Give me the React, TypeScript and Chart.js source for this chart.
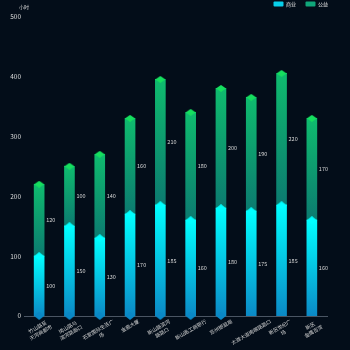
import React, { useEffect, useRef } from 'react';
import { Chart, registerables } from 'chart.js';
Chart.register(...registerables);

const categories: string[][] = [
  ['竹山路至', '天河商都市'],
  ['岗山路与', '滨河路路口'],
  ['石家国际生活广', '场'],
  ['金鼎大厦'],
  ['新山路滨河', '路路口'],
  ['新山路工商银行'],
  ['苏州银监局'],
  ['太湖大道南端路路口'],
  ['新区世纪广', '场'],
  ['新区', '金鹰百货'],
];
const seriesNames = ['商业', '公益'];
const businessValues = [100, 150, 130, 170, 185, 160, 180, 175, 185, 160];
const publicValues = [120, 100, 140, 160, 210, 180, 200, 190, 220, 170];
const baseCaps: (number | null)[] = [0, 0, 0, 0, 0, 0, 0, null, null, null];
const yMax = 500;
const yStep = 100;
const unitLabel = '小时';

const FONT = '"Noto Sans CJK SC", "Noto Sans", sans-serif';
const BG = '#030d19';

function makeDiamond(color: string, w: number, h: number) {
  const c = document.createElement('canvas');
  c.width = w;
  c.height = h;
  const g = c.getContext('2d')!;
  g.fillStyle = color;
  g.beginPath();
  g.moveTo(w / 2, 0);
  g.lineTo(w, h / 2);
  g.lineTo(w / 2, h);
  g.lineTo(0, h / 2);
  g.closePath();
  g.fill();
  return c;
}

export default function App() {
  const ref = useRef<HTMLCanvasElement | null>(null);
  useEffect(() => {
    if (!ref.current) return;
    const totals = businessValues.map((v, i) => v + publicValues[i]);
    const zeros = businessValues.map(() => 0);

    const grad = (start: number[], end: number[], c0: string, c1: string) => (ctx: any) => {
      const chart = ctx.chart;
      const y = chart.scales && chart.scales.y;
      if (!y || ctx.type !== 'data') return c0;
      const i = ctx.dataIndex;
      const top = y.getPixelForValue(end[i]);
      const bottom = y.getPixelForValue(start[i]);
      if (!isFinite(top) || !isFinite(bottom) || top === bottom) return c0;
      const g = chart.ctx.createLinearGradient(0, top, 0, bottom);
      g.addColorStop(0, c0);
      g.addColorStop(1, c1);
      return g;
    };

    const greenCap = makeDiamond('#16df5f', 10, 7);
    const cyanCap = makeDiamond('#00ffff', 10, 8);
    const baseCap = makeDiamond('#0a88c6', 10, 8);

    const valueLabels = {
      id: 'valueLabels',
      afterDatasetsDraw(chart: any) {
        const ctx = chart.ctx;
        ctx.save();
        ctx.font = `5.5px ${FONT}`;
        ctx.fillStyle = '#d6d6d6';
        ctx.textAlign = 'left';
        ctx.textBaseline = 'middle';
        [businessValues, publicValues].forEach((vals, di) => {
          const meta = chart.getDatasetMeta(di);
          meta.data.forEach((el: any, i: number) => {
            const p = el.getProps(['x', 'y', 'base', 'width'], true);
            ctx.fillText(String(vals[i]), p.x + p.width / 2 + 2, (p.y + p.base) / 2);
          });
        });
        ctx.restore();
      },
    };

    const xLabels = {
      id: 'xLabels',
      afterDraw(chart: any) {
        const ctx = chart.ctx;
        const xs = chart.scales.x;
        const axisY = chart.chartArea.bottom;
        const lh = 6.5;
        ctx.save();
        ctx.font = `5px ${FONT}`;
        ctx.fillStyle = '#d6d6d6';
        ctx.textAlign = 'center';
        ctx.textBaseline = 'middle';
        categories.forEach((lines, i) => {
          const x = xs.getPixelForValue(i);
          const W = Math.max(...lines.map((l) => ctx.measureText(l).width));
          const H = lines.length * lh;
          const cy = axisY + 2 + 0.25 * W + 0.433 * H;
          ctx.save();
          ctx.translate(x, cy);
          ctx.rotate(-Math.PI / 6);
          lines.forEach((l, k) => {
            ctx.fillText(l, 0, -H / 2 + lh * (k + 0.5));
          });
          ctx.restore();
        });
        ctx.restore();
      },
    };

    const unitTitle = {
      id: 'unitTitle',
      afterDraw(chart: any) {
        const ctx = chart.ctx;
        ctx.save();
        ctx.font = `5px ${FONT}`;
        ctx.fillStyle = '#d6d6d6';
        ctx.textAlign = 'center';
        ctx.textBaseline = 'middle';
        ctx.fillText(unitLabel, 24, 7);
        ctx.restore();
      },
    };

    const legendColors = ['#08cfea', '#10a67a'];

    const chart = new Chart(ref.current, {
      type: 'bar',
      data: {
        labels: categories.map((c) => c.join('')),
        datasets: [
          {
            label: seriesNames[0],
            data: businessValues,
            backgroundColor: grad(zeros, businessValues, '#00ffff', '#0b89c6'),
            barThickness: 10,
            borderWidth: 0,
            stack: 'main',
            order: 2,
          } as any,
          {
            label: seriesNames[1],
            data: publicValues,
            backgroundColor: grad(businessValues, totals, '#0fbb6e', '#0c7a70'),
            barThickness: 10,
            borderWidth: 0,
            stack: 'main',
            order: 2,
          } as any,
          {
            type: 'line',
            label: 'topCap',
            data: totals,
            showLine: false,
            pointStyle: greenCap,
            pointRadius: 5,
            stack: 'capTop',
            order: 1,
            clip: false,
          } as any,
          {
            type: 'line',
            label: 'midCap',
            data: businessValues,
            showLine: false,
            pointStyle: cyanCap,
            pointRadius: 5,
            stack: 'capMid',
            order: 1,
            clip: false,
          } as any,
          {
            type: 'line',
            label: 'baseCap',
            data: baseCaps,
            showLine: false,
            pointStyle: baseCap,
            pointRadius: 5,
            stack: 'capBase',
            order: 1,
            clip: false,
          } as any,
        ],
      },
      options: {
        animation: false,
        responsive: true,
        maintainAspectRatio: false,
        events: [],
        layout: { padding: { top: -8, right: 12.5, left: 0, bottom: 0 } },
        plugins: {
          tooltip: { enabled: false },
          legend: {
            position: 'top',
            align: 'end',
            labels: {
              boxWidth: 10,
              boxHeight: 5,
              padding: 9.5,
              font: { size: 5, family: FONT },
              color: '#e0e0e0',
              generateLabels: () =>
                seriesNames.map((t, i) => ({
                  text: t,
                  fillStyle: legendColors[i],
                  strokeStyle: legendColors[i],
                  lineWidth: 0,
                  hidden: false,
                  datasetIndex: i,
                  fontColor: '#e0e0e0',
                  borderRadius: 1,
                })),
            },
          },
        },
        scales: {
          x: {
            type: 'category',
            offset: true,
            stacked: true,
            grid: { display: false, drawTicks: false },
            border: { display: true, color: '#4a5563', width: 1 },
            ticks: { display: false },
            afterFit: (s: any) => {
              s.height = 34;
            },
          },
          y: {
            type: 'linear',
            stacked: true,
            min: 0,
            max: yMax,
            grid: { display: false, drawTicks: false },
            border: { display: false },
            ticks: {
              stepSize: yStep,
              color: '#dcdcdc',
              padding: 3,
              font: { size: 6.5, family: FONT },
            },
            afterFit: (s: any) => {
              s.width = 24;
            },
          },
          yr: {
            type: 'linear',
            position: 'right',
            display: true,
            grid: { display: false, drawTicks: false },
            border: { display: false },
            ticks: { display: false },
            afterFit: (s: any) => {
              s.width = 10.5;
            },
          },
        },
      } as any,
      plugins: [valueLabels, xLabels, unitTitle],
    });
    return () => chart.destroy();
  }, []);

  return (
    <div style={{ position: 'fixed', left: 0, top: 0, width: 350, height: 350, background: BG }}>
      <canvas ref={ref} />
    </div>
  );
}
